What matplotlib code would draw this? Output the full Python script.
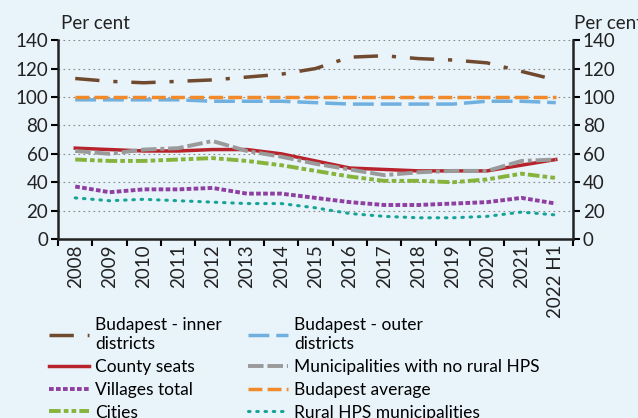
import numpy as np
import matplotlib.pyplot as plt

years = ['2008', '2009', '2010', '2011', '2012', '2013', '2014', '2015',
         '2016', '2017', '2018', '2019', '2020', '2021', '2022 H1']

bp_inner = [113, 111, 110, 111, 112, 114, 116, 120, 128, 129, 127, 126, 124, 118, 112]
bp_outer = [98, 98, 98, 98, 97, 97, 97, 96, 95, 95, 95, 95, 97, 97, 96]
bp_avg = [100] * 15
county_seats = [64, 63, 62, 62, 63, 63, 60, 55, 50, 49, 48, 48, 48, 52, 56]
munic_no_hps = [62, 60, 63, 64, 69, 62, 58, 53, 49, 45, 47, 48, 48, 55, 56]
villages = [37, 33, 35, 35, 36, 32, 32, 29, 26, 24, 24, 25, 26, 29, 25]
cities = [56, 55, 55, 56, 57, 55, 52, 48, 44, 41, 41, 40, 42, 46, 43]
rural_hps = [29, 27, 28, 27, 26, 25, 25, 22, 18, 16, 15, 15, 16, 19, 17]

bg = '#E8F3FA'
txt = '#222222'
plt.rcParams['font.family'] = ['Lato', 'DejaVu Sans']

fig = plt.figure(figsize=(6.38, 4.18), dpi=100, facecolor=bg)
ax = fig.add_axes([0.091, 0.428, 0.807, 0.476], facecolor=bg)
x = np.arange(len(years))

lines = {}
lines['inner'], = ax.plot(x, bp_inner, color='#704A2E', lw=2.5, dashes=(7, 4, 1.2, 4),
                          label='Budapest - inner\ndistricts')
lines['outer'], = ax.plot(x, bp_outer, color='#6FB0E0', lw=2.5, dashes=(6, 2),
                          label='Budapest - outer\ndistricts')
lines['avg'], = ax.plot(x, bp_avg, color='#F28A2A', lw=2.5, dashes=(4, 1.5),
                        label='Budapest average')
lines['county'], = ax.plot(x, county_seats, color='#B8232B', lw=2.5,
                           label='County seats')
lines['munic'], = ax.plot(x, munic_no_hps, color='#9A9A9A', lw=2.8, dashes=(4, 1, 4, 1, 1, 1),
                          label='Municipalities with no rural HPS')
lines['vill'], = ax.plot(x, villages, color='#8E3FA0', lw=2.8, dashes=(1.2, 0.6),
                         label='Villages total')
lines['cities'], = ax.plot(x, cities, color='#86B33A', lw=2.8, dashes=(3, 0.8, 1.2, 0.8, 1.2, 0.8),
                           label='Cities')
lines['rural'], = ax.plot(x, rural_hps, color='#17A398', lw=2.2, dashes=(0.5, 2.2),
                          dash_capstyle='round', label='Rural HPS municipalities')

ax.set_xlim(-0.5, len(years) - 0.5)
ax.set_ylim(0, 140)
ax.set_yticks(range(0, 141, 20))
ax.set_xticks(x)
ax.set_xticklabels(years, rotation=90, fontsize=13.5, color=txt)
ax.set_xticks(np.arange(-0.5, len(years), 1), minor=True)
ax.tick_params(axis='x', which='major', length=0, pad=4)
ax.tick_params(axis='x', which='minor', length=5, width=1.5, direction='out')
ax.tick_params(axis='y', labelsize=13.5, length=5, width=1.5, labelcolor=txt, pad=2,
               right=True, labelright=True)
for y in range(20, 141, 20):
    ax.axhline(y, color='#888888', lw=0.8, ls=(0, (1.5, 3)), zorder=0)
ax.spines['top'].set_visible(False)
for side in ['left', 'right', 'bottom']:
    ax.spines[side].set_linewidth(1.8)
    ax.spines[side].set_color(txt)

fig.text(0.095, 0.93, 'Per cent', fontsize=13.5, color=txt)
fig.text(0.9, 0.93, 'Per cent', fontsize=13.5, color=txt)

order = ['inner', 'county', 'vill', 'cities', 'outer', 'munic', 'avg', 'rural']
fig.legend([lines[k] for k in order], [lines[k].get_label() for k in order],
           loc='upper left', bbox_to_anchor=(0.066, 0.258), ncol=2, frameon=False,
           fontsize=12.5, handlelength=2.3, handletextpad=0.35, columnspacing=1.5,
           labelspacing=0.4, borderaxespad=0)

fig.savefig('out.png', dpi=100, facecolor=bg)
